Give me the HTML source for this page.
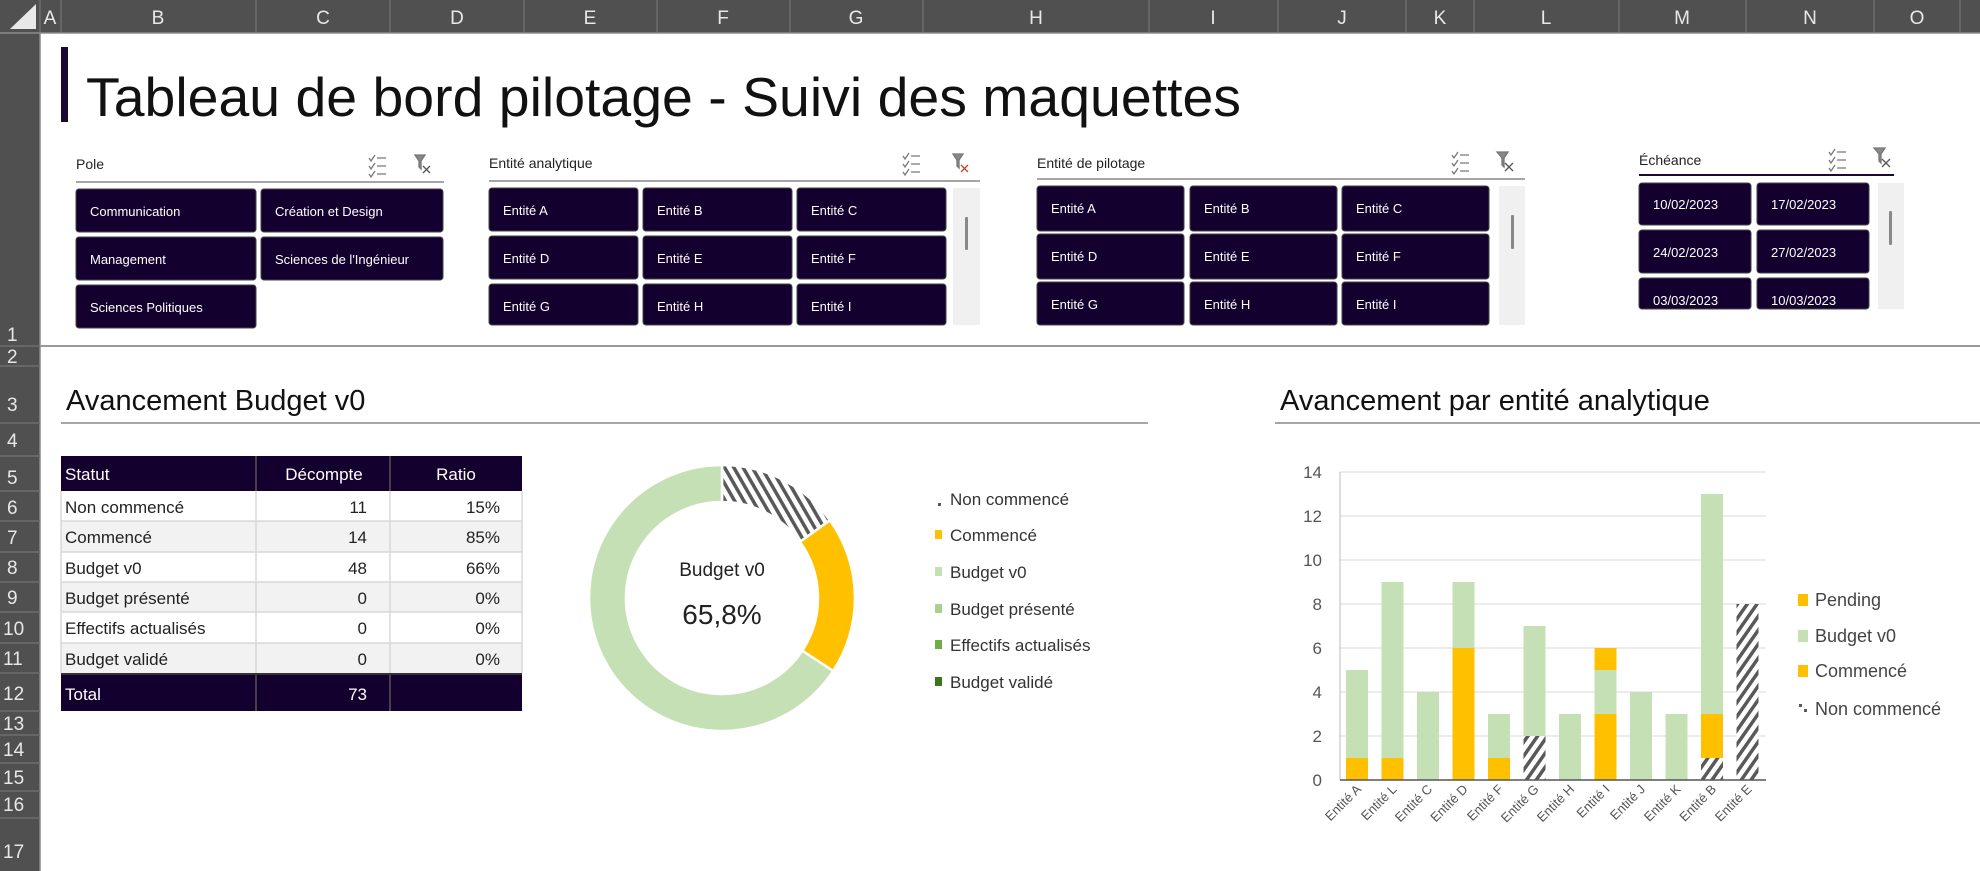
<!DOCTYPE html>
<html><head><meta charset="utf-8"><style>
html,body{margin:0;padding:0;background:#fff;}
svg{display:block;font-family:"Liberation Sans",sans-serif;}
</style></head><body>
<svg width="1980" height="871" viewBox="0 0 1980 871" xmlns="http://www.w3.org/2000/svg">
<defs>
<pattern id="hatch" patternUnits="userSpaceOnUse" width="8" height="8" patternTransform="rotate(35)">
<rect width="8" height="8" fill="#fff"/><rect width="3.5" height="8" fill="#595959"/>
</pattern>
<pattern id="hatch2" patternUnits="userSpaceOnUse" width="8" height="8" patternTransform="rotate(-30)">
<rect width="8" height="8" fill="#fff"/><rect width="3.5" height="8" fill="#595959"/>
</pattern>
</defs>
<rect width="1980" height="871" fill="#fff"/>
<!-- column header -->
<rect x="0" y="0" width="1980" height="33" fill="#505050"/>
<rect x="0" y="0" width="40" height="871" fill="#505050"/>
<polygon points="10,29 36,29 36,4" fill="#e8e8e8"/>
<g stroke="#6e6e6e" stroke-width="1.5">
<line x1="40" y1="0" x2="40" y2="33"/><line x1="61" y1="0" x2="61" y2="33"/><line x1="256" y1="0" x2="256" y2="33"/><line x1="390" y1="0" x2="390" y2="33"/><line x1="524" y1="0" x2="524" y2="33"/><line x1="657" y1="0" x2="657" y2="33"/><line x1="790" y1="0" x2="790" y2="33"/><line x1="923" y1="0" x2="923" y2="33"/><line x1="1149" y1="0" x2="1149" y2="33"/><line x1="1278" y1="0" x2="1278" y2="33"/><line x1="1406" y1="0" x2="1406" y2="33"/><line x1="1474" y1="0" x2="1474" y2="33"/><line x1="1619" y1="0" x2="1619" y2="33"/><line x1="1746" y1="0" x2="1746" y2="33"/><line x1="1874" y1="0" x2="1874" y2="33"/><line x1="1960" y1="0" x2="1960" y2="33"/>
<line x1="0" y1="33" x2="1980" y2="33" stroke="#8a8a8a"/>
<line x1="40" y1="33" x2="40" y2="871" stroke="#8a8a8a"/>
</g>
<g fill="#e8e8e8" font-size="19" text-anchor="middle">
<text x="50" y="24">A</text><text x="158" y="24">B</text><text x="323" y="24">C</text><text x="457" y="24">D</text><text x="590" y="24">E</text><text x="723" y="24">F</text><text x="856" y="24">G</text><text x="1036" y="24">H</text><text x="1213" y="24">I</text><text x="1342" y="24">J</text><text x="1440" y="24">K</text><text x="1546" y="24">L</text><text x="1682" y="24">M</text><text x="1810" y="24">N</text><text x="1917" y="24">O</text>
</g>
<!-- row header -->
<g stroke="#6e6e6e" stroke-width="1.5">
<line x1="0" y1="346" x2="40" y2="346"/><line x1="0" y1="366" x2="40" y2="366"/><line x1="0" y1="423" x2="40" y2="423"/><line x1="0" y1="456" x2="40" y2="456"/><line x1="0" y1="491" x2="40" y2="491"/><line x1="0" y1="521" x2="40" y2="521"/><line x1="0" y1="552" x2="40" y2="552"/><line x1="0" y1="582" x2="40" y2="582"/><line x1="0" y1="612" x2="40" y2="612"/><line x1="0" y1="643" x2="40" y2="643"/><line x1="0" y1="673" x2="40" y2="673"/><line x1="0" y1="711" x2="40" y2="711"/><line x1="0" y1="735" x2="40" y2="735"/><line x1="0" y1="763" x2="40" y2="763"/><line x1="0" y1="791" x2="40" y2="791"/><line x1="0" y1="818" x2="40" y2="818"/>
</g>
<g fill="#e8e8e8" font-size="19">
<text x="7" y="341">1</text><text x="7" y="363">2</text><text x="7" y="411">3</text><text x="7" y="447">4</text><text x="7" y="484">5</text><text x="7" y="514">6</text><text x="7" y="544">7</text><text x="7" y="574">8</text><text x="7" y="604">9</text><text x="3" y="635">10</text><text x="3" y="665">11</text><text x="3" y="700">12</text><text x="3" y="730">13</text><text x="3" y="756">14</text><text x="3" y="784">15</text><text x="3" y="811">16</text><text x="3" y="858">17</text>
</g>
<!-- title -->
<rect x="61" y="47" width="7" height="75" fill="#1a0a33"/>
<text x="86" y="116" font-size="55" fill="#111" textLength="1155" lengthAdjust="spacingAndGlyphs">Tableau de bord pilotage - Suivi des maquettes</text>
<line x1="40" y1="346" x2="1980" y2="346" stroke="#9a9a9a" stroke-width="2"/>

<!-- slicer icons template -->
<g font-size="14" fill="#222">
<text x="76" y="169">Pole</text>
<text x="489" y="168">Entité analytique</text>
<text x="1037" y="168">Entité de pilotage</text>
<text x="1639" y="165">Échéance</text>
</g>
<g stroke="#888" stroke-width="1.5">
<line x1="76" y1="182" x2="444" y2="182"/>
<line x1="489" y1="181" x2="980" y2="181"/>
<line x1="1037" y1="179" x2="1525" y2="179"/>
</g>
<line x1="1639" y1="175" x2="1894" y2="175" stroke="#1a0a33" stroke-width="2"/>
<g id="icons" stroke="#777" stroke-width="1.3" fill="none">
<!-- pole -->
<path d="M369,158 l2,3 l4,-6 M369,166 l2,3 l4,-6 M369,174 l2,3 l4,-6 M377,158 h9 M377,166 h9 M377,174 h9"/>
<path d="M415,155 h10 l-4,6 v8 l-2,-2 v-6 z" fill="#888"/><path d="M423,166 l7,7 M430,166 l-7,7" stroke="#555"/>
<!-- analytique -->
<path d="M903,156 l2,3 l4,-6 M903,164 l2,3 l4,-6 M903,172 l2,3 l4,-6 M911,156 h9 M911,164 h9 M911,172 h9"/>
<path d="M953,154 h10 l-4,6 v8 l-2,-2 v-6 z" fill="#888"/><path d="M961,165 l7,7 M968,165 l-7,7" stroke="#d04020"/>
<!-- pilotage -->
<path d="M1452,155 l2,3 l4,-6 M1452,163 l2,3 l4,-6 M1452,171 l2,3 l4,-6 M1460,155 h9 M1460,163 h9 M1460,171 h9"/>
<path d="M1497,152 h11 l-4,6 v9 l-2,-2 v-7 z" fill="#888"/><path d="M1505,163 l8,8 M1513,163 l-8,8" stroke="#555"/>
<!-- echeance -->
<path d="M1829,152 l2,3 l4,-6 M1829,160 l2,3 l4,-6 M1829,168 l2,3 l4,-6 M1837,152 h9 M1837,160 h9 M1837,168 h9"/>
<path d="M1874,148 h11 l-4,6 v9 l-2,-2 v-7 z" fill="#888"/><path d="M1882,159 l8,8 M1890,159 l-8,8" stroke="#555"/>
</g>
<!-- slicer buttons -->
<g fill="#14002e" stroke="#444" stroke-width="1">
<rect x="76" y="189" width="180" height="43" rx="3"/><rect x="261" y="189" width="182" height="43" rx="3"/>
<rect x="76" y="237" width="180" height="43" rx="3"/><rect x="261" y="237" width="182" height="43" rx="3"/>
<rect x="76" y="285" width="180" height="43" rx="3"/>
<rect x="489" y="188" width="149" height="43" rx="3"/><rect x="643" y="188" width="149" height="43" rx="3"/><rect x="797" y="188" width="149" height="43" rx="3"/>
<rect x="489" y="236" width="149" height="43" rx="3"/><rect x="643" y="236" width="149" height="43" rx="3"/><rect x="797" y="236" width="149" height="43" rx="3"/>
<rect x="489" y="284" width="149" height="41" rx="3"/><rect x="643" y="284" width="149" height="41" rx="3"/><rect x="797" y="284" width="149" height="41" rx="3"/>
<rect x="1037" y="186" width="147" height="45" rx="3"/><rect x="1190" y="186" width="147" height="45" rx="3"/><rect x="1342" y="186" width="147" height="45" rx="3"/>
<rect x="1037" y="234" width="147" height="45" rx="3"/><rect x="1190" y="234" width="147" height="45" rx="3"/><rect x="1342" y="234" width="147" height="45" rx="3"/>
<rect x="1037" y="282" width="147" height="43" rx="3"/><rect x="1190" y="282" width="147" height="43" rx="3"/><rect x="1342" y="282" width="147" height="43" rx="3"/>
<rect x="1639" y="183" width="112" height="42" rx="3"/><rect x="1757" y="183" width="112" height="42" rx="3"/>
<rect x="1639" y="230" width="112" height="43" rx="3"/><rect x="1757" y="230" width="112" height="43" rx="3"/>
<rect x="1639" y="278" width="112" height="31" rx="3"/><rect x="1757" y="278" width="112" height="31" rx="3"/>
</g>
<g fill="#f0f0f0" stroke="none">
<rect x="953" y="188" width="27" height="137"/><rect x="1499" y="186" width="26" height="139"/><rect x="1878" y="183" width="26" height="126"/>
</g>
<g fill="#888"><rect x="965" y="217" width="3" height="33" rx="1"/><rect x="1511" y="215" width="3" height="34" rx="1"/><rect x="1889" y="211" width="3" height="34" rx="1"/></g>
<g fill="#fff" font-size="13">
<text x="90" y="216">Communication</text><text x="275" y="216">Création et Design</text>
<text x="90" y="264">Management</text><text x="275" y="264">Sciences de l'Ingénieur</text>
<text x="90" y="312">Sciences Politiques</text>
<text x="503" y="215">Entité A</text><text x="657" y="215">Entité B</text><text x="811" y="215">Entité C</text>
<text x="503" y="263">Entité D</text><text x="657" y="263">Entité E</text><text x="811" y="263">Entité F</text>
<text x="503" y="311">Entité G</text><text x="657" y="311">Entité H</text><text x="811" y="311">Entité I</text>
<text x="1051" y="213">Entité A</text><text x="1204" y="213">Entité B</text><text x="1356" y="213">Entité C</text>
<text x="1051" y="261">Entité D</text><text x="1204" y="261">Entité E</text><text x="1356" y="261">Entité F</text>
<text x="1051" y="309">Entité G</text><text x="1204" y="309">Entité H</text><text x="1356" y="309">Entité I</text>
<text x="1653" y="209">10/02/2023</text><text x="1771" y="209">17/02/2023</text>
<text x="1653" y="257">24/02/2023</text><text x="1771" y="257">27/02/2023</text>
<text x="1653" y="305">03/03/2023</text><text x="1771" y="305">10/03/2023</text>
</g>

<!-- section titles -->
<text x="66" y="410" font-size="29" fill="#111">Avancement  Budget v0</text>
<line x1="61" y1="423" x2="1148" y2="423" stroke="#888" stroke-width="1.5"/>
<text x="1280" y="410" font-size="29" fill="#111">Avancement par entité analytique</text>
<line x1="1275" y1="423" x2="1980" y2="423" stroke="#888" stroke-width="1.5"/>

<!-- table -->
<rect x="61" y="456" width="461" height="35" fill="#14002e"/>
<rect x="61" y="491" width="461" height="30" fill="#fff"/>
<rect x="61" y="521" width="461" height="31" fill="#f2f2f2"/>
<rect x="61" y="552" width="461" height="30" fill="#fff"/>
<rect x="61" y="582" width="461" height="30" fill="#f2f2f2"/>
<rect x="61" y="612" width="461" height="31" fill="#fff"/>
<rect x="61" y="643" width="461" height="30" fill="#f2f2f2"/>
<rect x="61" y="675" width="461" height="36" fill="#14002e"/>
<g stroke="#d8d8d8" stroke-width="1.5">
<line x1="61" y1="521" x2="522" y2="521"/><line x1="61" y1="552" x2="522" y2="552"/><line x1="61" y1="582" x2="522" y2="582"/><line x1="61" y1="612" x2="522" y2="612"/><line x1="61" y1="643" x2="522" y2="643"/>
<line x1="256" y1="491" x2="256" y2="673"/><line x1="390" y1="491" x2="390" y2="673"/>
<line x1="61" y1="491" x2="61" y2="673"/><line x1="522" y1="491" x2="522" y2="673"/>
</g>
<g stroke="#555" stroke-width="1.5"><line x1="256" y1="456" x2="256" y2="491"/><line x1="390" y1="456" x2="390" y2="491"/><line x1="256" y1="675" x2="256" y2="711"/><line x1="390" y1="675" x2="390" y2="711"/></g>
<line x1="61" y1="674" x2="522" y2="674" stroke="#333" stroke-width="2"/>
<g font-size="17" fill="#fff">
<text x="65" y="480">Statut</text><text x="324" y="480" text-anchor="middle">Décompte</text><text x="456" y="480" text-anchor="middle">Ratio</text>
<text x="65" y="700">Total</text><text x="367" y="700" text-anchor="end">73</text>
</g>
<g font-size="17" fill="#222">
<text x="65" y="513">Non commencé</text><text x="367" y="513" text-anchor="end">11</text><text x="500" y="513" text-anchor="end">15%</text>
<text x="65" y="543">Commencé</text><text x="367" y="543" text-anchor="end">14</text><text x="500" y="543" text-anchor="end">85%</text>
<text x="65" y="574">Budget v0</text><text x="367" y="574" text-anchor="end">48</text><text x="500" y="574" text-anchor="end">66%</text>
<text x="65" y="604">Budget présenté</text><text x="367" y="604" text-anchor="end">0</text><text x="500" y="604" text-anchor="end">0%</text>
<text x="65" y="634">Effectifs actualisés</text><text x="367" y="634" text-anchor="end">0</text><text x="500" y="634" text-anchor="end">0%</text>
<text x="65" y="665">Budget validé</text><text x="367" y="665" text-anchor="end">0</text><text x="500" y="665" text-anchor="end">0%</text>
</g>

<!-- donut -->
<g stroke="#fff" stroke-width="2.5">
<path d="M722,465 A133,133 0 0 1 829.9,520.3 L799.9,541.9 A96,96 0 0 0 722,502 Z" fill="url(#hatch2)"/>
<path d="M829.9,520.3 A133,133 0 0 1 833.2,671 L802.2,650.7 A96,96 0 0 0 799.9,541.9 Z" fill="#ffc000"/>
<path d="M833.2,671 A133,133 0 1 1 722,465 L722,502 A96,96 0 1 0 802.2,650.7 Z" fill="#c5e0b4"/>
</g>
<text x="722" y="576" font-size="19" fill="#222" text-anchor="middle">Budget v0</text>
<text x="722" y="624" font-size="28" fill="#222" text-anchor="middle">65,8%</text>
<g>
<rect x="938" y="503" width="3" height="3" fill="#595959"/>
<rect x="935" y="530" width="7" height="9" fill="#ffc000"/>
<rect x="935" y="567" width="7" height="9" fill="#c5e0b4"/>
<rect x="935" y="604" width="7" height="9" fill="#a9d18e"/>
<rect x="935" y="640" width="7" height="9" fill="#70ad47"/>
<rect x="935" y="677" width="7" height="9" fill="#38761d"/>
</g>
<g font-size="17" fill="#333">
<text x="950" y="505">Non commencé</text><text x="950" y="541">Commencé</text><text x="950" y="578">Budget v0</text><text x="950" y="615">Budget présenté</text><text x="950" y="651">Effectifs actualisés</text><text x="950" y="688">Budget validé</text>
</g>

<!-- bar chart -->
<g stroke="#d9d9d9" stroke-width="1">
<line x1="1340" y1="472" x2="1766" y2="472"/><line x1="1340" y1="516" x2="1766" y2="516"/><line x1="1340" y1="560" x2="1766" y2="560"/><line x1="1340" y1="604" x2="1766" y2="604"/><line x1="1340" y1="648" x2="1766" y2="648"/><line x1="1340" y1="692" x2="1766" y2="692"/><line x1="1340" y1="736" x2="1766" y2="736"/>
</g>
<line x1="1340" y1="472" x2="1340" y2="780" stroke="#bbb" stroke-width="1"/>
<g font-size="17" fill="#555" text-anchor="end">
<text x="1322" y="478">14</text><text x="1322" y="522">12</text><text x="1322" y="566">10</text><text x="1322" y="610">8</text><text x="1322" y="654">6</text><text x="1322" y="698">4</text><text x="1322" y="742">2</text><text x="1322" y="786">0</text>
</g>
<g stroke="none">
<!-- A --><rect x="1346" y="758" width="22" height="22" fill="#ffc000"/><rect x="1346" y="670" width="22" height="88" fill="#c5e0b4"/>
<!-- L --><rect x="1381.5" y="758" width="22" height="22" fill="#ffc000"/><rect x="1381.5" y="582" width="22" height="176" fill="#c5e0b4"/>
<!-- C --><rect x="1417" y="692" width="22" height="88" fill="#c5e0b4"/>
<!-- D --><rect x="1452.5" y="648" width="22" height="132" fill="#ffc000"/><rect x="1452.5" y="582" width="22" height="66" fill="#c5e0b4"/>
<!-- F --><rect x="1488" y="758" width="22" height="22" fill="#ffc000"/><rect x="1488" y="714" width="22" height="44" fill="#c5e0b4"/>
<!-- G --><rect x="1523.5" y="736" width="22" height="44" fill="url(#hatch)"/><rect x="1523.5" y="626" width="22" height="110" fill="#c5e0b4"/>
<!-- H --><rect x="1559" y="714" width="22" height="66" fill="#c5e0b4"/>
<!-- I --><rect x="1594.5" y="714" width="22" height="66" fill="#ffc000"/><rect x="1594.5" y="670" width="22" height="44" fill="#c5e0b4"/><rect x="1594.5" y="648" width="22" height="22" fill="#ffc000"/>
<!-- J --><rect x="1630" y="692" width="22" height="88" fill="#c5e0b4"/>
<!-- K --><rect x="1665.5" y="714" width="22" height="66" fill="#c5e0b4"/>
<!-- B --><rect x="1701" y="758" width="22" height="22" fill="url(#hatch)"/><rect x="1701" y="714" width="22" height="44" fill="#ffc000"/><rect x="1701" y="494" width="22" height="220" fill="#c5e0b4"/>
<!-- E --><rect x="1736.5" y="604" width="22" height="176" fill="url(#hatch)"/>
</g>
<line x1="1340" y1="780" x2="1766" y2="780" stroke="#555" stroke-width="1.5"/>
<g font-size="13" fill="#555" text-anchor="end">
<text transform="translate(1362,790) rotate(-45)">Entité A</text>
<text transform="translate(1397.5,790) rotate(-45)">Entité L</text>
<text transform="translate(1433,790) rotate(-45)">Entité C</text>
<text transform="translate(1468.5,790) rotate(-45)">Entité D</text>
<text transform="translate(1504,790) rotate(-45)">Entité F</text>
<text transform="translate(1539.5,790) rotate(-45)">Entité G</text>
<text transform="translate(1575,790) rotate(-45)">Entité H</text>
<text transform="translate(1610.5,790) rotate(-45)">Entité I</text>
<text transform="translate(1646,790) rotate(-45)">Entité J</text>
<text transform="translate(1681.5,790) rotate(-45)">Entité K</text>
<text transform="translate(1717,790) rotate(-45)">Entité B</text>
<text transform="translate(1752.5,790) rotate(-45)">Entité E</text>
</g>
<rect x="1798" y="594" width="10" height="12" fill="#ffc000"/>
<rect x="1798" y="630" width="10" height="12" fill="#c5e0b4"/>
<rect x="1798" y="665" width="10" height="12" fill="#ffc000"/>
<rect x="1799" y="704" width="3" height="3" fill="#595959"/><rect x="1804" y="709" width="3" height="3" fill="#595959"/>
<g font-size="18" fill="#444">
<text x="1815" y="606">Pending</text><text x="1815" y="642">Budget v0</text><text x="1815" y="677">Commencé</text><text x="1815" y="715">Non commencé</text>
</g>
</svg>
</body></html>
